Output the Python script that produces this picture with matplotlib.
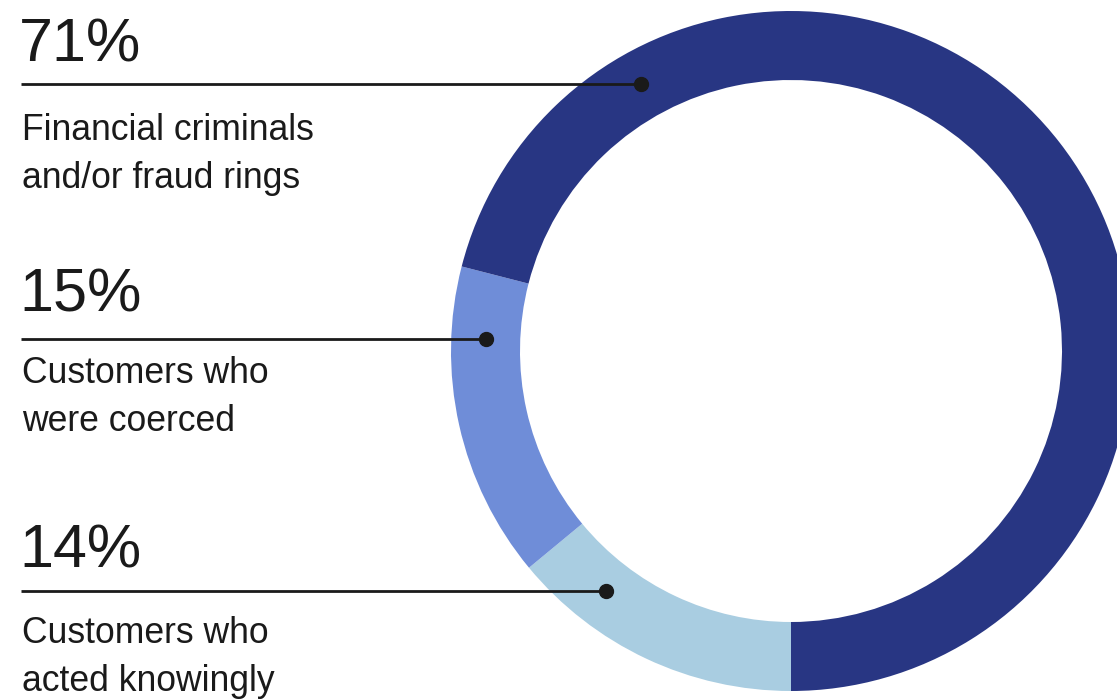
import matplotlib.pyplot as plt

# data
label_lines = [["Customers who", "acted knowingly"],
               ["Customers who", "were coerced"],
               ["Financial criminals", "and/or fraud rings"]]
values = [14, 15, 71]
pct_text = ["14%", "15%", "71%"]
colors = ["#a9cde1", "#6f8dd8", "#283683"]

# layout in pixel units
cx, cy, r_out, width = 791, 351, 340, 69
line_y = [591, 339, 84]
dot_x = [606, 486, 641]
pct_base = [568, 312, 62]
lab_base = [643, 383, 140]
line_gap = 48

plt.rcParams["font.family"] = ["Liberation Sans", "DejaVu Sans"]

fig = plt.figure(figsize=(11.17, 6.99), dpi=100)
ax = fig.add_axes([0, 0, 1, 1])

# y axis is flipped, so counterclock=True draws clockwise on screen
ax.pie(values, colors=colors, startangle=90, counterclock=True,
       center=(cx, cy), radius=r_out, frame=True,
       wedgeprops=dict(width=width, linewidth=0))
ax.set_xlim(0, 1117)
ax.set_ylim(699, 0)
ax.set_aspect("equal")
ax.axis("off")

for i in range(len(values)):
    ax.plot([21, dot_x[i]], [line_y[i], line_y[i]], color="#1a1a1a", lw=2, solid_capstyle="butt", zorder=5)
    ax.plot(dot_x[i], line_y[i], "o", color="#1a1a1a", ms=10, zorder=6)
    ax.text(19, pct_base[i], pct_text[i], fontsize=44, color="#1a1a1a", va="baseline", ha="left")
    for j, s in enumerate(label_lines[i]):
        ax.text(22, lab_base[i] + j * line_gap, s, fontsize=25.6, color="#1a1a1a",
                va="baseline", ha="left")

fig.savefig("out.png", dpi=100)
